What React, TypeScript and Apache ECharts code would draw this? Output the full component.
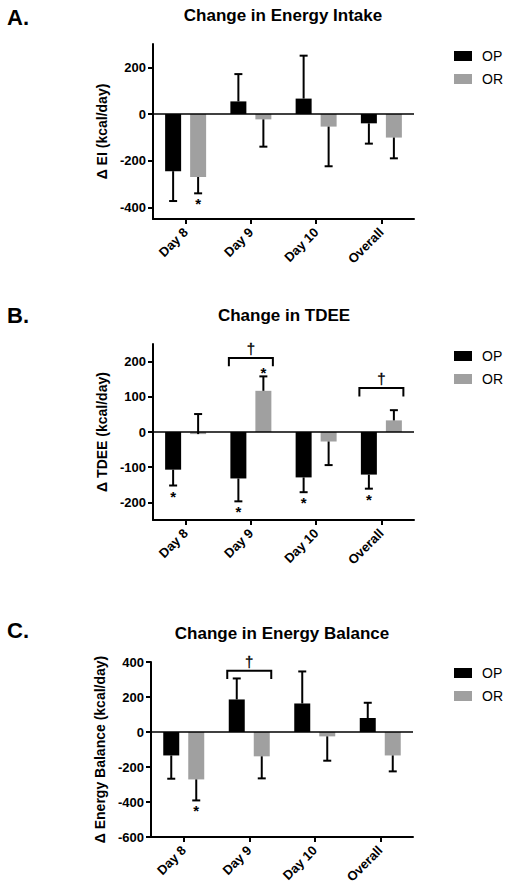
import React, { useEffect, useRef } from 'react';
import * as echarts from 'echarts';

const categories = ['Day 8', 'Day 9', 'Day 10', 'Overall'];
const seriesNames = ['OP', 'OR'];
const panelLetters = ['A.', 'B.', 'C.'];
const panelTitles = ['Change in Energy Intake', 'Change in TDEE', 'Change in Energy Balance'];
const yAxisNames = ['Δ EI (kcal/day)', 'Δ TDEE (kcal/day)', 'Δ Energy Balance (kcal/day)'];

// Panel A: energy intake
const eiOP = [-245, 54, 66, -40];
const eiOPErr = [-128, 117, 184, -87];
const eiOR = [-270, -23, -54, -101];
const eiORErr = [-70, -117, -170, -89];
const eiOPStar = [0, 0, 0, 0];
const eiORStar = [1, 0, 0, 0];
const eiTicks = [-400, -200, 0, 200];
const eiRange = [-450, 300];
const eiBrackets: number[][] = [];

// Panel B: TDEE
const tdeeOP = [-107, -132, -129, -121];
const tdeeOPErr = [-45, -65, -42, -40];
const tdeeOR = [-6, 117, -27, 33];
const tdeeORErr = [57, 41, -67, 29];
const tdeeOPStar = [1, 1, 1, 1];
const tdeeORStar = [0, 1, 0, 0];
const tdeeTicks = [-200, -100, 0, 100, 200];
const tdeeRange = [-250, 250];
// [category index, bracket level, leg end]
const tdeeBrackets = [
  [1, 210, 187],
  [3, 125, 101],
];

// Panel C: energy balance
const ebOP = [-134, 186, 163, 80];
const ebOPErr = [-133, 120, 183, 87];
const ebOR = [-271, -139, -25, -134];
const ebORErr = [-120, -126, -139, -91];
const ebOPStar = [0, 0, 0, 0];
const ebORStar = [1, 0, 0, 0];
const ebTicks = [-600, -400, -200, 0, 200, 400];
const ebRange = [-600, 400];
const ebBrackets = [[1, 350, 303]];

const FONT = '"Liberation Sans", Arial, Helvetica, sans-serif';

const panels = [
  { op: eiOP, opErr: eiOPErr, or: eiOR, orErr: eiORErr, opStar: eiOPStar, orStar: eiORStar, ticks: eiTicks, range: eiRange, brackets: eiBrackets },
  { op: tdeeOP, opErr: tdeeOPErr, or: tdeeOR, orErr: tdeeORErr, opStar: tdeeOPStar, orStar: tdeeORStar, ticks: tdeeTicks, range: tdeeRange, brackets: tdeeBrackets },
  { op: ebOP, opErr: ebOPErr, or: ebOR, orErr: ebORErr, opStar: ebOPStar, orStar: ebORStar, ticks: ebTicks, range: ebRange, brackets: ebBrackets },
];

const layouts = [
  { left: 153, top: 44, width: 261, height: 175, titleX: 283, titleTop: 7, letterY: 17, legendTop: 49, nameGap: 36 },
  { left: 153, top: 344, width: 261, height: 176, titleX: 284, titleTop: 307, letterY: 315, legendTop: 349, nameGap: 37 },
  { left: 151, top: 662, width: 262, height: 175, titleX: 282, titleTop: 625, letterY: 630, legendTop: 666, nameGap: 38 },
];

const BAR_W = 16;
const BAR_GAP = 9;
const OFFSET = (BAR_W + BAR_GAP) / 2;

const errRender = (offset: number) => (params: any, api: any) => {
  const i = api.value(0);
  const m = api.value(1);
  const e = api.value(2);
  const s = api.value(3);
  const p0 = api.coord([i, m]);
  const p1 = api.coord([i, m + e]);
  const x = p0[0] + offset;
  const up = e > 0;
  const children: any[] = [
    { type: 'line', shape: { x1: x, y1: p0[1], x2: x, y2: p1[1] }, style: { stroke: '#000', lineWidth: 2 } },
    { type: 'line', shape: { x1: x - 4, y1: p1[1], x2: x + 4, y2: p1[1] }, style: { stroke: '#000', lineWidth: 2 } },
  ];
  if (s) {
    children.push({
      type: 'text',
      x,
      y: up ? p1[1] - 11 : p1[1] + 3,
      style: { text: '*', font: `bold 15px ${FONT}`, fill: '#000', align: 'center', verticalAlign: 'top' },
    });
  }
  return { type: 'group', children };
};

const bracketRender = (params: any, api: any) => {
  const i = api.value(0);
  const lvl = api.value(1);
  const leg = api.value(2);
  const c = api.coord([i, lvl]);
  const l = api.coord([i, leg]);
  const x0 = c[0] - 22;
  const x1 = c[0] + 22;
  return {
    type: 'group',
    children: [
      {
        type: 'polyline',
        shape: { points: [[x0, l[1]], [x0, c[1]], [x1, c[1]], [x1, l[1]]] },
        style: { stroke: '#000', lineWidth: 2, fill: 'none' },
      },
      {
        type: 'text',
        x: c[0],
        y: c[1] - 17,
        style: { text: '†', font: `15px ${FONT}`, fill: '#000', stroke: '#000', lineWidth: 0.3, align: 'center', verticalAlign: 'top' },
      },
    ],
  };
};

export default function App() {
  const ref = useRef<HTMLDivElement>(null);
  useEffect(() => {
    if (!ref.current) return;
    const chart = echarts.init(ref.current, null, { renderer: 'svg' });
    const grid: any[] = [];
    const xAxis: any[] = [];
    const yAxis: any[] = [];
    const series: any[] = [];
    const title: any[] = [];
    const legend: any[] = [];
    const graphic: any[] = [];

    panels.forEach((p, k) => {
      const L = layouts[k];
      grid.push({ left: L.left, top: L.top, width: L.width, height: L.height, containLabel: false });
      xAxis.push({
        type: 'category',
        gridIndex: k,
        data: categories,
        axisLine: { show: true, onZero: false, lineStyle: { color: '#000', width: 2 } },
        axisTick: { show: true, alignWithLabel: true, length: 5, lineStyle: { color: '#000', width: 2 } },
        axisLabel: { rotate: 45, margin: 11, color: '#000', fontWeight: 'bold', fontSize: 13, fontFamily: FONT },
        splitLine: { show: false },
      });
      yAxis.push({
        type: 'value',
        gridIndex: k,
        min: p.range[0],
        max: p.range[1],
        splitLine: { show: false },
        axisLine: { show: true, lineStyle: { color: '#000', width: 2 } },
        axisTick: { show: true, length: 5, lineStyle: { color: '#000', width: 2 }, customValues: p.ticks },
        axisLabel: { color: '#000', fontWeight: 'bold', fontSize: 13, fontFamily: FONT, margin: 7, customValues: p.ticks },
        name: yAxisNames[k],
        nameLocation: 'middle',
        nameRotate: 90,
        nameGap: L.nameGap,
        nameTextStyle: { color: '#000', fontWeight: 'bold', fontSize: 14, fontFamily: FONT },
      });
      series.push({
        type: 'bar',
        name: seriesNames[0],
        xAxisIndex: k,
        yAxisIndex: k,
        data: p.op,
        barWidth: BAR_W,
        barGap: `${(BAR_GAP / BAR_W) * 100}%`,
        itemStyle: { color: '#000000' },
        markLine: {
          silent: true,
          symbol: 'none',
          label: { show: false },
          lineStyle: { color: '#000', width: 1.5, type: 'solid' },
          data: [{ yAxis: 0 }],
        },
      });
      series.push({
        type: 'bar',
        name: seriesNames[1],
        xAxisIndex: k,
        yAxisIndex: k,
        data: p.or,
        barWidth: BAR_W,
        barGap: `${(BAR_GAP / BAR_W) * 100}%`,
        itemStyle: { color: '#a0a0a0' },
      });
      series.push({
        type: 'custom',
        name: 'errOP' + k,
        xAxisIndex: k,
        yAxisIndex: k,
        renderItem: errRender(-OFFSET),
        encode: { x: 0, y: 1 },
        z: 5,
        data: p.op.map((v, i) => [i, v, p.opErr[i], p.opStar[i]]),
      });
      series.push({
        type: 'custom',
        name: 'errOR' + k,
        xAxisIndex: k,
        yAxisIndex: k,
        renderItem: errRender(OFFSET),
        encode: { x: 0, y: 1 },
        z: 5,
        data: p.or.map((v, i) => [i, v, p.orErr[i], p.orStar[i]]),
      });
      if (p.brackets.length) {
        series.push({
          type: 'custom',
          name: 'bracket' + k,
          xAxisIndex: k,
          yAxisIndex: k,
          renderItem: bracketRender,
          encode: { x: 0, y: 1 },
          z: 5,
          data: p.brackets,
        });
      }
      title.push({
        text: panelTitles[k],
        left: L.titleX,
        top: L.titleTop,
        textAlign: 'center',
        padding: 0,
        textStyle: { color: '#000', fontWeight: 'bold', fontSize: 17, fontFamily: FONT },
      });
      legend.push({
        orient: 'vertical',
        left: 454,
        top: L.legendTop,
        padding: 0,
        itemWidth: 18,
        itemHeight: 10,
        itemGap: 9,
        icon: 'rect',
        selectedMode: false,
        data: seriesNames,
        textStyle: { color: '#000', fontSize: 14, fontFamily: FONT, padding: [0, 0, 0, 5] },
      });
      graphic.push({
        type: 'text',
        left: 7,
        top: L.letterY - 11,
        style: { text: panelLetters[k], font: `bold 22px ${FONT}`, fill: '#000' },
      });
    });

    chart.setOption({
      animation: false,
      backgroundColor: '#fff',
      title,
      legend,
      grid,
      xAxis,
      yAxis,
      series,
      graphic,
    });
    return () => chart.dispose();
  }, []);
  return <div ref={ref} style={{ position: 'absolute', left: 0, top: 0, width: 512, height: 890 }} />;
}
